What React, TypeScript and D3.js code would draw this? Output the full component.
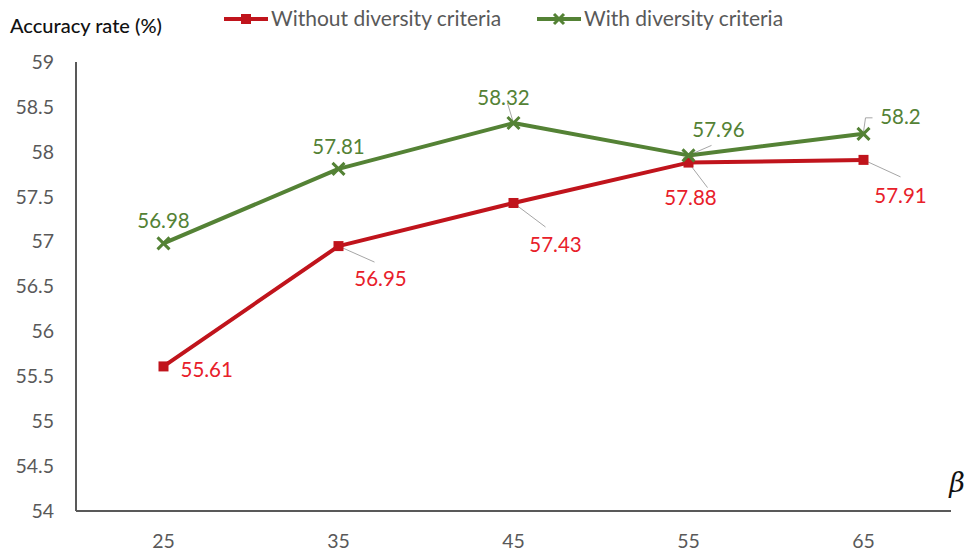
import * as d3 from "d3";

const betas = ["25", "35", "45", "55", "65"];
const withoutDiversity = [55.61, 56.95, 57.43, 57.88, 57.91];
const withDiversity = [56.98, 57.81, 58.32, 57.96, 58.2];
const yTicks = [54, 54.5, 55, 55.5, 56, 56.5, 57, 57.5, 58, 58.5, 59];

// label offsets (dx, dy from the point) and optional leader line end
const redLabels = [
  { dx: 17, dy: 3, anchor: "start", lead: null },
  { dx: 42, dy: 33, anchor: "middle", lead: [36, 16] },
  { dx: 42, dy: 42, anchor: "middle", lead: [32, 24] },
  { dx: 2, dy: 35, anchor: "middle", lead: [19, 25] },
  { dx: 37, dy: 36, anchor: "middle", lead: [37, 17] },
];
const greenLabels = [
  { dx: 0, dy: -23, anchor: "middle", lead: null },
  { dx: 0, dy: -22, anchor: "middle", lead: null },
  { dx: -10, dy: -25, anchor: "middle", lead: [-6, -20] },
  { dx: 30, dy: -26, anchor: "middle", lead: [23, -10] },
  { dx: 37, dy: -17, anchor: "middle", lead: "elbow" },
];

const W = 967;
const H = 552;
const RED = "#C0141C";
const RED_TEXT = "#E8202A";
const GREEN = "#548235";
const GREY = "#595959";
const FONT = "Lato, 'Open Sans', sans-serif";

export default function App() {
  const x = d3.scaleBand<string>().domain(betas).range([76, 951]);
  const y = d3.scaleLinear().domain([54, 59]).range([511, 62]);
  const cx = (b: string) => (x(b) ?? 0) + x.bandwidth() / 2;

  const line = d3
    .line<number>()
    .x((_, i) => cx(betas[i]))
    .y((d) => y(d));

  return (
    <svg width={W} height={H} style={{ position: "absolute", left: 0, top: 0, background: "#fff" }} fontFamily={FONT}>
      <text x={10} y={33} fontSize={20} fill="#111" fontWeight={500}>Accuracy rate (%)</text>

      {/* legend */}
      <g>
        <line x1={224} x2={268} y1={19} y2={19} stroke={RED} strokeWidth={4} />
        <rect x={241} y={14} width={10} height={10} fill={RED} />
        <text x={271} y={26} fontSize={21} fill={GREY}>Without diversity criteria</text>
        <line x1={537} x2={581} y1={19} y2={19} stroke={GREEN} strokeWidth={4} />
        <path d="M554,14L564,24M564,14L554,24" stroke={GREEN} strokeWidth={3} />
        <text x={584} y={26} fontSize={21} fill={GREY}>With diversity criteria</text>
      </g>

      {/* axes */}
      <line x1={76} x2={76} y1={y(59)} y2={y(54)} stroke={GREY} strokeWidth={2} />
      <line x1={76} x2={951} y1={y(54)} y2={y(54)} stroke={GREY} strokeWidth={2} />
      {yTicks.map((t) => (
        <text key={t} x={54} y={y(t)} dy="0.35em" textAnchor="end" fontSize={19.5} fill={GREY}>
          {t}
        </text>
      ))}
      {betas.map((b) => (
        <text key={b} x={cx(b)} y={541} dy="0.35em" textAnchor="middle" fontSize={19.5} fill={GREY}>
          {b}
        </text>
      ))}
      <text x={957} y={492} textAnchor="middle" fontSize={27} fontStyle="italic" fill="#111" fontFamily="'DejaVu Serif', serif">
        β
      </text>

      {/* leader lines */}
      <g stroke="#A6A6A6" strokeWidth={1} fill="none">
        {withoutDiversity.map((v, i) => {
          const l = redLabels[i].lead;
          if (!l || l === "elbow") return null;
          const px = cx(betas[i]);
          const py = y(v);
          return <line key={"r" + i} x1={px} y1={py} x2={px + l[0]} y2={py + l[1]} />;
        })}
        {withDiversity.map((v, i) => {
          const l = greenLabels[i].lead;
          if (!l) return null;
          const px = cx(betas[i]);
          const py = y(v);
          if (l === "elbow")
            return <path key={"g" + i} d={`M${px},${py - 2}L${px + 2},${py - 16}L${px + 9},${py - 16}`} />;
          return <line key={"g" + i} x1={px} y1={py} x2={px + l[0]} y2={py + l[1]} />;
        })}
      </g>

      {/* series */}
      <path d={line(withoutDiversity) ?? ""} fill="none" stroke={RED} strokeWidth={4} strokeLinejoin="round" />
      <path d={line(withDiversity) ?? ""} fill="none" stroke={GREEN} strokeWidth={4} strokeLinejoin="round" />
      {withoutDiversity.map((v, i) => (
        <rect key={i} x={cx(betas[i]) - 5} y={y(v) - 5} width={10} height={10} fill={RED} />
      ))}
      {withDiversity.map((v, i) => {
        const px = cx(betas[i]);
        const py = y(v);
        return (
          <path key={i} d={`M${px - 6},${py - 6}L${px + 6},${py + 6}M${px + 6},${py - 6}L${px - 6},${py + 6}`} stroke={GREEN} strokeWidth={3} />
        );
      })}

      {/* data labels */}
      {withoutDiversity.map((v, i) => {
        const o = redLabels[i];
        return (
          <text key={i} x={cx(betas[i]) + o.dx} y={y(v) + o.dy} dy="0.35em" textAnchor={o.anchor} fontSize={20.5} fill={RED_TEXT}>
            {v}
          </text>
        );
      })}
      {withDiversity.map((v, i) => {
        const o = greenLabels[i];
        return (
          <text key={i} x={cx(betas[i]) + o.dx} y={y(v) + o.dy} dy="0.35em" textAnchor={o.anchor} fontSize={20.5} fill={GREEN}>
            {v}
          </text>
        );
      })}
    </svg>
  );
}
